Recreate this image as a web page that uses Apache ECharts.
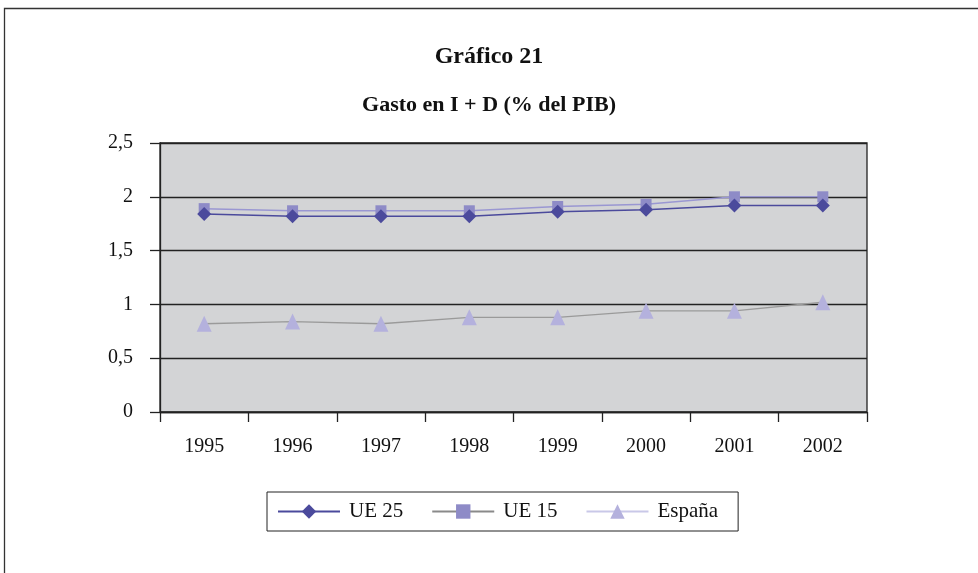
<!DOCTYPE html>
<html>
<head>
<meta charset="utf-8">
<script src="https://cdn.jsdelivr.net/npm/echarts@6/dist/echarts.min.js"></script>
<style>
  html, body { margin: 0; padding: 0; background: #fff; }
  #chart { width: 978px; height: 573px; }
</style>
</head>
<body>
<div id="chart"></div>
<script>
// años y valores
const years = ['1995', '1996', '1997', '1998', '1999', '2000', '2001', '2002'];
const ue25 = [1.84, 1.82, 1.82, 1.82, 1.86, 1.88, 1.92, 1.92];
const ue15 = [1.89, 1.87, 1.87, 1.87, 1.91, 1.93, 2.0, 2.0];
const espana = [0.82, 0.84, 0.82, 0.88, 0.88, 0.94, 0.94, 1.02];
const yTicks = [0, 0.5, 1, 1.5, 2, 2.5];

const font = '"Liberation Serif", "DejaVu Serif", serif';
const dark = '#222';

const chart = echarts.init(document.getElementById('chart'), null, { renderer: 'canvas' });

const option = {
    backgroundColor: '#fff',
    animation: false,
    textStyle: { fontFamily: font },
    graphic: [
        {
            // marco exterior
            type: 'rect',
            silent: true,
            shape: { x: 4.5, y: 8.5, width: 1000, height: 600 },
            style: { fill: 'none', stroke: '#333', lineWidth: 1.3 }
        }
    ],
    title: [
        {
            text: 'Gráfico 21',
            left: 'center',
            top: 40,
            textStyle: { fontFamily: font, fontWeight: 'bold', fontSize: 24, color: '#111' }
        },
        {
            text: 'Gasto en I + D (% del PIB)',
            left: 'center',
            top: 89,
            textStyle: { fontFamily: font, fontWeight: 'bold', fontSize: 22, color: '#111' }
        }
    ],
    legend: {
        left: 267,
        top: 492,
        orient: 'horizontal',
        padding: [9, 20, 9, 10],
        itemGap: 28,
        itemWidth: 62,
        itemHeight: 18,
        borderColor: dark,
        borderWidth: 1,
        textStyle: { fontFamily: font, fontSize: 21, color: '#111', padding: [0, 0, 0, 4] },
        data: [
            { name: 'UE 25', lineStyle: { color: '#4b4a9c' } },
            { name: 'UE 15', lineStyle: { color: '#8a8a8a' } },
            { name: 'España', lineStyle: { color: '#c9c8e8' } }
        ]
    },
    grid: {
        left: 160,
        right: 111,
        top: 143,
        bottom: 161,
        show: true,
        backgroundColor: '#d3d4d6',
        borderColor: dark,
        borderWidth: 1.3
    },
    xAxis: {
        type: 'category',
        data: years,
        boundaryGap: true,
        axisLine: { show: true, lineStyle: { color: dark, width: 1.3 } },
        axisTick: { show: true, length: 10, lineStyle: { color: dark, width: 1.3 } },
        axisLabel: { margin: 25, fontFamily: font, fontSize: 20, color: '#111' },
        splitLine: { show: false }
    },
    yAxis: {
        type: 'value',
        min: yTicks[0],
        max: yTicks[yTicks.length - 1],
        interval: 0.5,
        axisLine: { show: true, lineStyle: { color: dark, width: 1.3 } },
        axisTick: { show: true, length: 10, lineStyle: { color: dark, width: 1.3 } },
        axisLabel: {
            margin: 27,
            fontFamily: font,
            fontSize: 20,
            color: '#111',
            formatter: v => String(v).replace('.', ',')
        },
        splitLine: { show: true, lineStyle: { color: dark, width: 1.3 } }
    },
    series: [
        {
            name: 'UE 25',
            type: 'line',
            data: ue25,
            symbol: 'diamond',
            symbolSize: [14, 14],
            lineStyle: { color: '#4b4a9c', width: 1.5 },
            itemStyle: { color: '#4b4a9c' },
            z: 4
        },
        {
            name: 'UE 15',
            type: 'line',
            data: ue15,
            symbol: 'rect',
            symbolSize: 11,
            lineStyle: { color: '#9a97d2', width: 1.5 },
            itemStyle: { color: '#8e8bc7' },
            z: 3
        },
        {
            name: 'España',
            type: 'line',
            data: espana,
            symbol: 'triangle',
            symbolSize: [15, 16],
            lineStyle: { color: '#9a9a9a', width: 1.3 },
            itemStyle: { color: '#b4b1dd' },
            z: 2
        }
    ]
};

chart.setOption(option);
</script>
</body>
</html>
